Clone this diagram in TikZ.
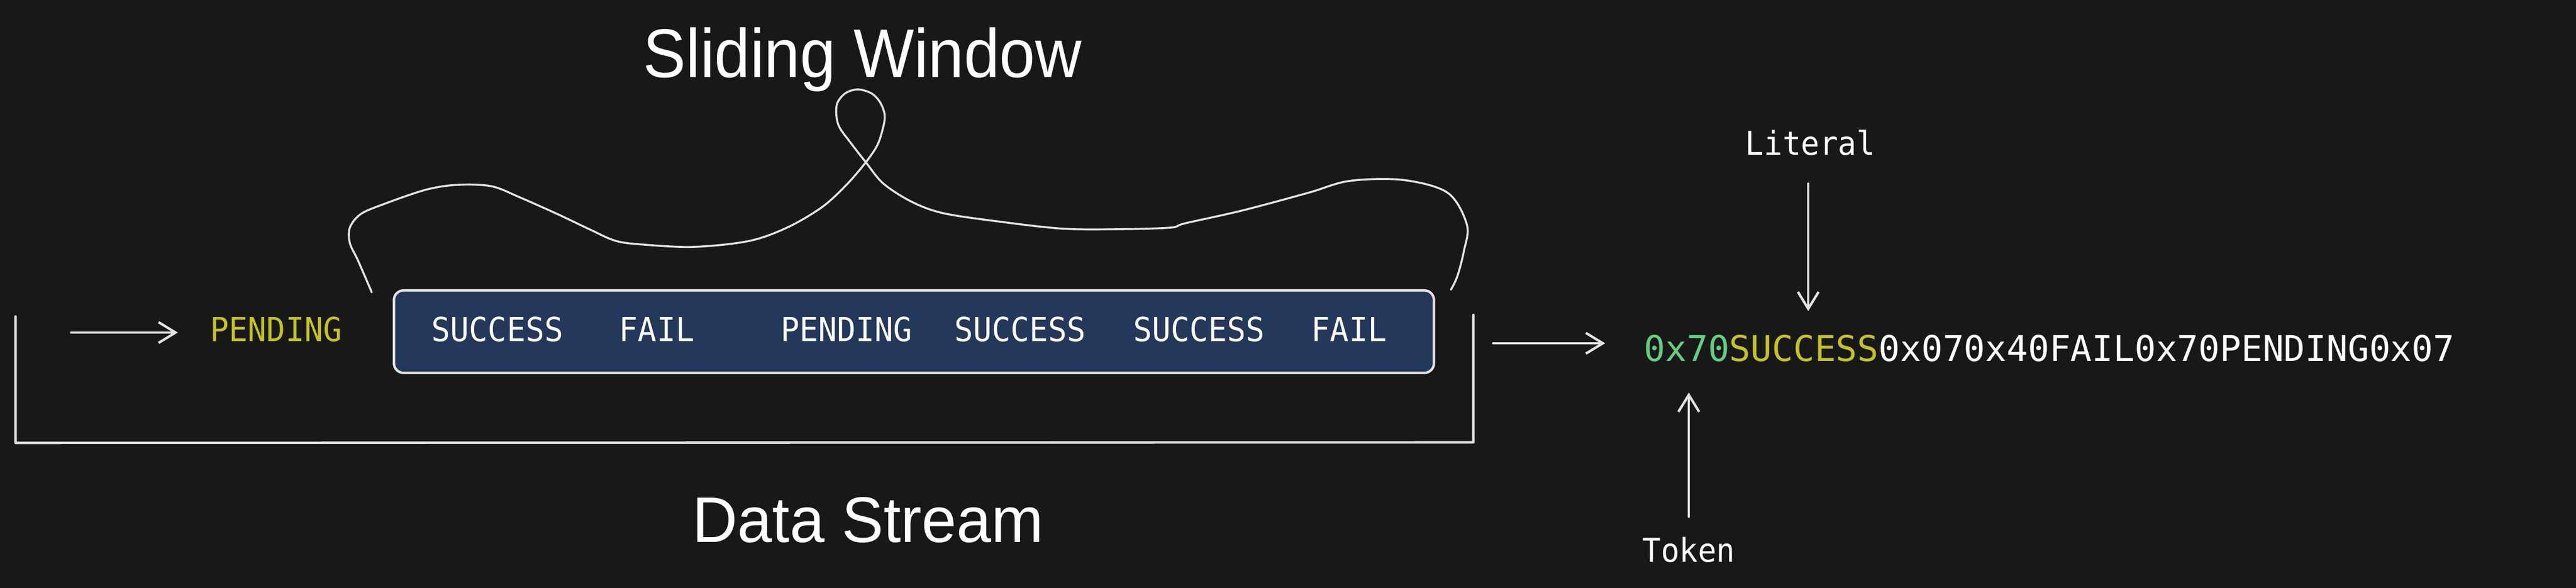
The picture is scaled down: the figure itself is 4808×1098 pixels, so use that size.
\documentclass[tikz,border=0pt]{standalone}
\usepackage{fontspec}
\usetikzlibrary{arrows.meta}
\newfontfamily\monof{DejaVu Sans Mono}
\newfontfamily\monocond[FakeStretch=0.94]{DejaVu Sans Mono}
\newfontfamily\headf[FakeStretch=0.93]{Liberation Sans}
\newfontfamily\headg[FakeStretch=0.97]{Liberation Sans}
\definecolor{bgc}{RGB}{24,24,24}
\definecolor{boxfill}{RGB}{35,56,90}
\definecolor{strokec}{RGB}{226,226,226}
\definecolor{lityellow}{RGB}{196,196,28}
\definecolor{tokgreen}{RGB}{98,206,132}
\tikzset{
  linestroke/.style={draw=strokec, line width=1.3pt, line cap=round, line join=round},
  curvestroke/.style={draw=strokec, line width=1.05pt, line cap=round, line join=round},
  arr/.style={linestroke, -{Straight Barb[length=9pt,width=11pt,line width=1.3pt]}},
  wordtxt/.style={text=white, inner sep=0pt, anchor=base, font=\monocond\fontsize{17.6pt}{21pt}\selectfont},
  hextxt/.style={text=white, inner sep=0pt, anchor=base, font=\monof\fontsize{18.8pt}{22pt}\selectfont},
  labeltxt/.style={text=white, inner sep=0pt, anchor=base, font=\monocond\fontsize{17.4pt}{21pt}\selectfont},
  titletxt/.style={text=white, inner sep=0pt, anchor=base, font=\headf\fontsize{36.6pt}{44pt}\selectfont},
  streamtxt/.style={text=white, inner sep=0pt, anchor=base, font=\headg\fontsize{34.2pt}{41pt}\selectfont},
  windowbox/.style={draw=strokec, fill=boxfill, line width=1.3pt, rounded corners=0.18cm}
}
\begin{document}
\begin{tikzpicture}[x=0.01cm, y=-0.01cm]
\useasboundingbox (0,0) rectangle (4808,1098);
\fill[bgc] (0,0) rectangle (4808,1098);

% titles
\node[titletxt] (title) at (1610,145) {Sliding Window};
\node[streamtxt] (stream) at (1620,1013) {Data Stream};

% data stream bracket
\coordinate (bl) at (29,591);
\coordinate (bbl) at (29,827);
\coordinate (bbr) at (2750,826);
\coordinate (br) at (2750,588);
\draw[linestroke] (bl) -- (bbl) -- (bbr) -- (br);

% window box
\node[windowbox, minimum width=19.4cm, minimum height=1.54cm, anchor=north west] (win) at (733,540) {};

% words
\node[wordtxt, text=lityellow] (pend0) at (515.5,637.5) {PENDING};
\node[wordtxt] (w1) at (928.5,638) {SUCCESS};
\node[wordtxt] (w2) at (1226,638) {FAIL};
\node[wordtxt] (w3) at (1580,638) {PENDING};
\node[wordtxt] (w4) at (1904,638) {SUCCESS};
\node[wordtxt] (w5) at (2238,638) {SUCCESS};
\node[wordtxt] (w6) at (2518,638) {FAIL};

% incoming arrow
\coordinate (inS) at (133,621);
\coordinate (inE) at (332,621);
\draw[arr] (inS) -- (inE);

% outgoing arrow
\coordinate (outS) at (2787,641);
\coordinate (outE) at (2996,641);
\draw[arr] (outS) -- (outE);

% encoded string
\node[hextxt] (hex) at (3825,675) {\textcolor{tokgreen}{0x70}\textcolor{lityellow}{SUCCESS}0x070x40FAIL0x70PENDING0x07};

% labels
\node[labeltxt] (lit) at (3379,290) {Literal};
\node[labeltxt] (tok) at (3152,1050) {Token};
\coordinate (litS) at (3375,343);
\coordinate (litE) at (3375,581);
\draw[arr] (litS) -- (litE);
\coordinate (tokS) at (3152,965);
\coordinate (tokE) at (3152,733);
\draw[arr] (tokS) -- (tokE);

% hand-drawn brace with loop
\draw[curvestroke] plot[smooth, tension=0.55] coordinates {
 (694,546) (668,486) (653,454) (653,425) (673,400) (714,382) (796,354) (857,345) (918,348) (969,368)
 (1041,400) (1102,429) (1150,450) (1204,457) (1296,461) (1398,450) (1469,425) (1534,387) (1580,345)
 (1616,303) (1638,270) (1649,235) (1651,213)
 (1642,190) (1626,174) (1601,167) (1578,174) (1563,192) (1561,215) (1567,238) (1588,267) (1616,303)
 (1649,343) (1702,377) (1760,398) (1859,413) (1983,427) (2090,428) (2185,425) (2212,417) (2319,393)
 (2442,360) (2518,338) (2618,336) (2702,360) (2738,420) (2732,470) (2720,516) (2708,541)
};
\end{tikzpicture}
\end{document}
